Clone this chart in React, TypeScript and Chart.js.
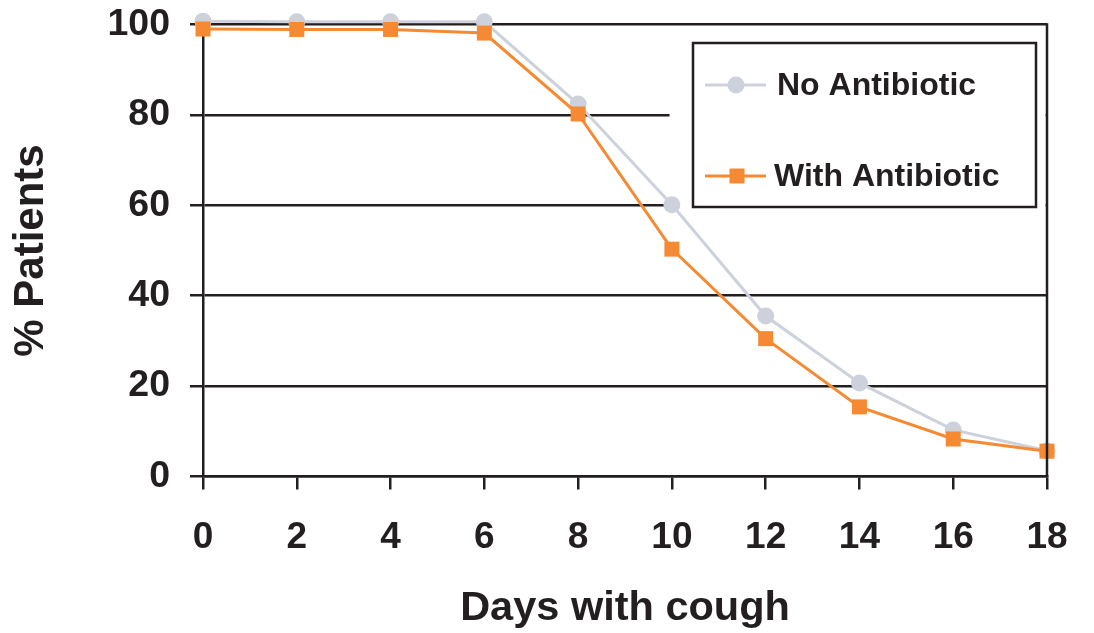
import React, { useEffect, useRef } from "react";
import { Chart, registerables } from "chart.js";

Chart.register(...registerables);

const days = [0, 2, 4, 6, 8, 10, 12, 14, 16, 18];
const noAntibiotic = [100.7, 100.6, 100.6, 100.6, 82.4, 60.1, 35.5, 20.7, 10.3, 5.7];
const withAntibiotic = [99.0, 98.9, 98.9, 98.1, 80.2, 50.3, 30.5, 15.4, 8.3, 5.6];
const seriesNames = ["No Antibiotic", "With Antibiotic"];
const xTitle = "Days with cough";
const yTitle = "% Patients";

const INK = "#231f20";
const GREY = "#cdd1dc";
const ORANGE = "#f58a33";
const FONT = "'Liberation Sans', Arial, Helvetica, sans-serif";

const frameLegend = {
  id: "frameLegend",
  beforeDatasetsDraw(chart: any) {
    const { ctx, scales } = chart;
    const x = scales.x;
    const y = scales.y;
    ctx.save();
    ctx.fillStyle = "#ffffff";
    const l = x.getPixelForValue(9.95);
    const r = x.getPixelForValue(18) - 1.3;
    ctx.fillRect(l, y.getPixelForValue(99), r - l, y.getPixelForValue(58) - y.getPixelForValue(99));
    ctx.restore();
  },
  afterDatasetsDraw(chart: any) {
    const { ctx, scales } = chart;
    const x = scales.x;
    const y = scales.y;
    ctx.save();
    ctx.strokeStyle = INK;
    ctx.lineWidth = 2.5;
    // right frame
    const rx = x.getPixelForValue(18);
    ctx.beginPath();
    ctx.moveTo(rx, y.getPixelForValue(100) - 1.25);
    ctx.lineTo(rx, y.getPixelForValue(0));
    ctx.stroke();
    // legend box
    ctx.strokeRect(693, 43, 343, 164);
    const items = [
      { name: seriesNames[0], color: GREY, yy: 85, shape: "circle", tx: 777 },
      { name: seriesNames[1], color: ORANGE, yy: 176, shape: "rect", tx: 774 },
    ];
    for (const it of items) {
      ctx.strokeStyle = it.color;
      ctx.lineWidth = 3;
      ctx.beginPath();
      ctx.moveTo(705, it.yy);
      ctx.lineTo(766, it.yy);
      ctx.stroke();
      ctx.fillStyle = it.color;
      if (it.shape === "circle") {
        ctx.beginPath();
        ctx.arc(736, it.yy, 8.5, 0, Math.PI * 2);
        ctx.fill();
      } else {
        ctx.fillRect(729.5, it.yy - 7.5, 15, 15);
      }
      ctx.fillStyle = INK;
      ctx.font = `bold 32px ${FONT}`;
      ctx.textBaseline = "middle";
      ctx.textAlign = "left";
      ctx.fillText(it.name, it.tx, it.yy + 1);
    }
    ctx.restore();
  },
};

export default function App() {
  const ref = useRef<HTMLCanvasElement | null>(null);
  useEffect(() => {
    if (!ref.current) return;
    const chart = new Chart(ref.current, {
      type: "line",
      data: {
        datasets: [
          {
            label: seriesNames[0],
            data: days.map((d, i) => ({ x: d, y: noAntibiotic[i] })),
            borderColor: GREY,
            backgroundColor: GREY,
            borderWidth: 3,
            pointStyle: "circle",
            pointRadius: 8.5,
            pointBorderWidth: 0,
            pointBackgroundColor: GREY,
            tension: 0,
            clip: false as any,
            order: 2,
          },
          {
            label: seriesNames[1],
            data: days.map((d, i) => ({ x: d, y: withAntibiotic[i] })),
            borderColor: ORANGE,
            backgroundColor: ORANGE,
            borderWidth: 3,
            pointStyle: "rect",
            pointRadius: 10.6,
            pointBorderWidth: 0,
            pointBackgroundColor: ORANGE,
            tension: 0,
            clip: false as any,
            order: 1,
          },
        ],
      },
      options: {
        animation: false,
        responsive: true,
        maintainAspectRatio: false,
        layout: { padding: { left: 0, top: 24.5, right: 47, bottom: 0 } },
        plugins: { legend: { display: false }, tooltip: { enabled: false } },
        scales: {
          x: {
            type: "linear",
            min: 0,
            max: 18,
            ticks: {
              stepSize: 2,
              padding: 26,
              color: INK,
              font: { family: FONT, weight: "bold", size: 37 },
            },
            grid: {
              drawOnChartArea: false,
              drawTicks: true,
              tickLength: 13,
              color: INK,
              lineWidth: 2.5,
            },
            border: { display: true, color: INK, width: 2.5 },
            title: {
              display: true,
              text: xTitle,
              color: INK,
              font: { family: FONT, weight: "bold", size: 41.5 },
              padding: { top: 0, bottom: 0 },
            },
            afterFit(scale: any) {
              scale.height = 633 - 476.5;
            },
          },
          y: {
            min: 0,
            max: 100,
            ticks: {
              stepSize: 20,
              padding: 20,
              color: INK,
              font: { family: FONT, weight: "bold", size: 37.5, lineHeight: 0.8 },
            },
            grid: {
              drawTicks: true,
              tickLength: 13,
              color: INK,
              lineWidth: 2.5,
            },
            border: { display: true, color: INK, width: 2.5 },
            title: {
              display: true,
              text: yTitle,
              color: INK,
              font: { family: FONT, weight: "bold", size: 42 },
              padding: { top: 6, bottom: 0 },
            },
            afterFit(scale: any) {
              scale.width = 203;
              scale.paddingTop = 0;
              scale.paddingBottom = 0;
            },
          },
        },
      },
      plugins: [frameLegend],
    });
    return () => chart.destroy();
  }, []);
  return (
    <div style={{ position: "absolute", left: 0, top: 0, width: 1094, height: 633, background: "#fff" }}>
      <canvas ref={ref} />
    </div>
  );
}
